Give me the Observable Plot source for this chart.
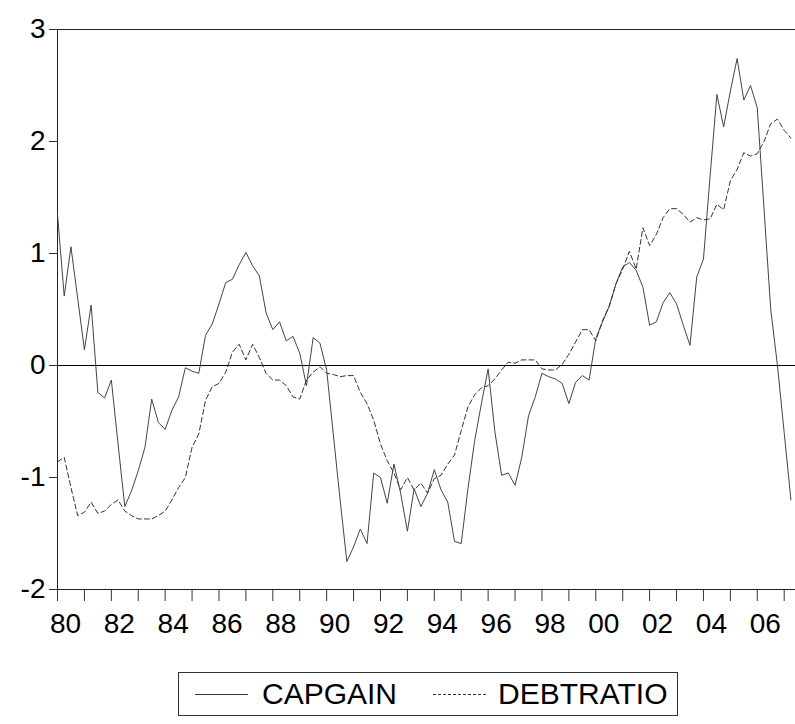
<!DOCTYPE html>
<html>
<head>
<meta charset="utf-8">
<script src="https://cdn.jsdelivr.net/npm/d3@7"></script>
<script src="https://cdn.jsdelivr.net/npm/@observablehq/plot@0.6"></script>
<style>
  body { margin: 0; background: #fff; font-family: "Liberation Sans", Arial, sans-serif; }
  #wrap { position: relative; width: 795px; height: 724px; }
  #legend {
    position: absolute; left: 178px; top: 672px; width: 500px; height: 44px;
    border: 1.5px solid #333; box-sizing: border-box;
    display: flex; align-items: center; font-size: 30px; color: #000;
  }
  #legend .sw { display: inline-block; width: 53px; height: 0; margin: 0 14px 0 16px; }
</style>
</head>
<body>
<div id="wrap">
  <div id="chart"></div>
  <div id="legend">
    <span class="sw" style="border-top:1px solid #333"></span>CAPGAIN
    <span class="sw" style="border-top:1px dashed #333; margin-left:36px; margin-right:12px"></span>DEBTRATIO
  </div>
</div>
<script>
// quarterly, 1980Q1 .. 2007Q2
const startYear = 1980;

const capgain = [
  1.35, 0.62, 1.06, 0.6, 0.14, 0.54, -0.24, -0.29, -0.13, -0.7, -1.26, -1.12,
  -0.94, -0.73, -0.3, -0.51, -0.57, -0.4, -0.28, -0.02, -0.05, -0.07, 0.27, 0.37,
  0.55, 0.74, 0.77, 0.9, 1.01, 0.89, 0.8, 0.47, 0.32, 0.39, 0.22, 0.26,
  0.11, -0.18, 0.25, 0.2, -0.04, -0.62, -1.2, -1.75, -1.62, -1.46, -1.59, -0.96,
  -1.0, -1.23, -0.88, -1.14, -1.48, -1.1, -1.26, -1.14, -0.93, -1.11, -1.22, -1.57,
  -1.59, -1.1, -0.67, -0.34, -0.03, -0.59, -0.98, -0.96, -1.07, -0.82, -0.45, -0.28,
  -0.07, -0.1, -0.12, -0.16, -0.34, -0.15, -0.09, -0.13, 0.24, 0.39, 0.53, 0.73,
  0.88, 0.92, 0.85, 0.7, 0.36, 0.39, 0.56, 0.65, 0.55, 0.36, 0.18, 0.79,
  0.95, 1.7, 2.42, 2.13, 2.45, 2.74, 2.37, 2.5, 2.3, 1.4, 0.5, 0.0,
  -0.6, -1.2
];

const debtratio = [
  -0.86, -0.82, -1.09, -1.34, -1.31, -1.22, -1.32, -1.3, -1.24, -1.2, -1.3, -1.34,
  -1.37, -1.37, -1.37, -1.34, -1.3, -1.2, -1.09, -1.0, -0.73, -0.61, -0.31, -0.19,
  -0.16, -0.06, 0.12, 0.19, 0.05, 0.19, 0.07, -0.07, -0.13, -0.13, -0.18, -0.28,
  -0.3, -0.13, -0.06, -0.01, -0.07, -0.08, -0.1, -0.09, -0.09, -0.24, -0.34, -0.49,
  -0.7, -0.85, -0.96, -1.11, -1.0, -1.11, -1.05, -1.14, -1.01, -0.98, -0.88, -0.8,
  -0.58, -0.37, -0.26, -0.2, -0.18, -0.12, -0.04, 0.03, 0.02, 0.05, 0.05, 0.05,
  -0.03, -0.04, -0.04, 0.01, 0.1, 0.21, 0.32, 0.32, 0.22, 0.4, 0.53, 0.73,
  0.86, 1.02, 0.86, 1.23, 1.07, 1.17, 1.32, 1.4, 1.4, 1.35, 1.28, 1.32,
  1.3, 1.31, 1.44, 1.39, 1.65, 1.75, 1.9, 1.87, 1.89, 2.0, 2.16, 2.2,
  2.1, 2.03
];

const yTicks = [-2, -1, 0, 1, 2, 3];
const years = d3.range(1980, 2008);
const labelYears = d3.range(1980, 2007, 2);

const rows = (vals) => vals.map((v, i) => ({ t: startYear + i / 4, v }));

const chart = Plot.plot({
  width: 795,
  height: 650,
  marginLeft: 57,
  marginRight: 0,
  marginTop: 29,
  marginBottom: 61,
  style: { fontFamily: "Liberation Sans, Arial, sans-serif", background: "#fff" },
  x: { domain: [1980, 2007.42], label: null },
  y: { domain: [-2, 3], label: null },
  marks: [
    Plot.axisY(yTicks, { tickSize: 8, tickPadding: 4, fontSize: 28, label: null, tickFormat: (d) => String(d), stroke: "#333", fill: "#000" }),
    Plot.axisX(years, { tickSize: 12, label: null, tickFormat: () => "", stroke: "#333" }),
    Plot.axisX(labelYears, { tickSize: 0, tickPadding: 24, dx: 8, fontSize: 28, fill: "#000", label: null,
      tickFormat: (d) => String(d).slice(2) }),
    Plot.ruleY([3, -2], { stroke: "#222" }),
    Plot.ruleX([1980], { stroke: "#222" }),
    Plot.ruleY([0], { stroke: "#000" }),
    Plot.line(rows(capgain), { x: "t", y: "v", stroke: "#444", strokeWidth: 1 }),
    Plot.line(rows(debtratio), { x: "t", y: "v", stroke: "#333", strokeWidth: 1, strokeDasharray: "5,3" })
  ]
});

document.getElementById("chart").appendChild(chart);
</script>
</body>
</html>
